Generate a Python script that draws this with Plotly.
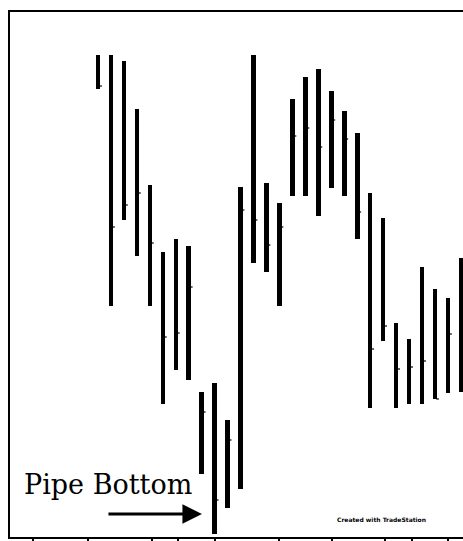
import plotly.graph_objects as go

# bar index (session number)
sessions = list(range(1, 30))
highs = [148.2, 148.2, 147.6, 142.8, 135.2, 128.5, 129.8, 129.1, 114.5, 115.4,
         111.7, 135.0, 148.2, 135.4, 133.4, 143.8, 146.0, 146.8, 144.6, 142.6,
         140.4, 134.4, 131.9, 121.4, 119.8, 127.0, 124.8, 123.9, 127.9]
lows = [144.8, 123.1, 131.7, 128.1, 123.1, 113.3, 116.7, 115.7, 106.3, 100.3,
        102.9, 104.8, 127.4, 126.5, 123.1, 134.1, 134.1, 132.1, 134.9, 134.1,
        129.8, 112.9, 119.6, 112.9, 113.3, 113.3, 113.8, 114.4, 114.5]
closes = [145.1, 131.0, 133.2, 134.4, 129.4, 120.0, 120.4, 125.0, 112.5, 103.7,
          109.7, 132.7, 131.7, 129.2, 131.0, 140.1, 140.9, 139.0, 141.7, 139.8,
          132.5, 118.8, 121.1, 116.8, 117.0, 117.6, 113.8, 120.3, 118.7]
date_ticks = [-4.0, 0.2, 5.2, 7.2, 10.0, 15.0, 19.05, 23.15, 25.2, 28.0]

ranges = [h - l for h, l in zip(highs, lows)]

fig = go.Figure()
fig.add_trace(go.Bar(x=sessions, y=ranges, base=lows, width=0.35,
                     marker=dict(color="black", line=dict(width=0)),
                     showlegend=False, hoverinfo="skip"))

# close ticks on the right side of each bar
tx, ty = [], []
for s, c in zip(sessions, closes):
    tx += [s + 0.1, s + 0.3, None]
    ty += [c, c, None]
fig.add_trace(go.Scatter(x=tx, y=ty, mode="lines",
                         line=dict(color="black", width=1.2),
                         showlegend=False, hoverinfo="skip"))

fig.add_annotation(x=-4.86, y=105.3, xref="x", yref="y", text="Pipe Bottom",
                   showarrow=False, xanchor="left", yanchor="middle",
                   font=dict(family="DejaVu Serif", size=27, color="black"))
fig.add_annotation(x=9.02, y=102.3, xref="x", yref="y", text="",
                   showarrow=True, ax=-95, ay=0, arrowhead=2, arrowsize=1.3,
                   arrowwidth=3, arrowcolor="black")
fig.add_annotation(x=22.84, y=101.8, xref="x", yref="y",
                   text="<b>Created with TradeStation</b>", showarrow=False,
                   font=dict(family="DejaVu Sans", size=6, color="black"))

fig.update_layout(
    width=463, height=541,
    margin=dict(l=10, r=0, t=12, b=4),
    plot_bgcolor="white", paper_bgcolor="white",
    bargap=0,
    xaxis=dict(range=[-5.79, 29.16], showgrid=False, zeroline=False,
               showline=True, linecolor="black", linewidth=2, mirror=True,
               tickvals=date_ticks, ticktext=[""] * len(date_ticks),
               ticks="outside", ticklen=4, tickcolor="black", tickwidth=1.5),
    yaxis=dict(range=[100, 152.5], showgrid=False, zeroline=False,
               showline=True, linecolor="black", linewidth=2,
               showticklabels=False, ticks=""),
)

fig.write_html(
    "out.html",
    config={"displayModeBar": False},
    post_script="document.body.style.margin='0';document.body.style.overflow='hidden';",
)
